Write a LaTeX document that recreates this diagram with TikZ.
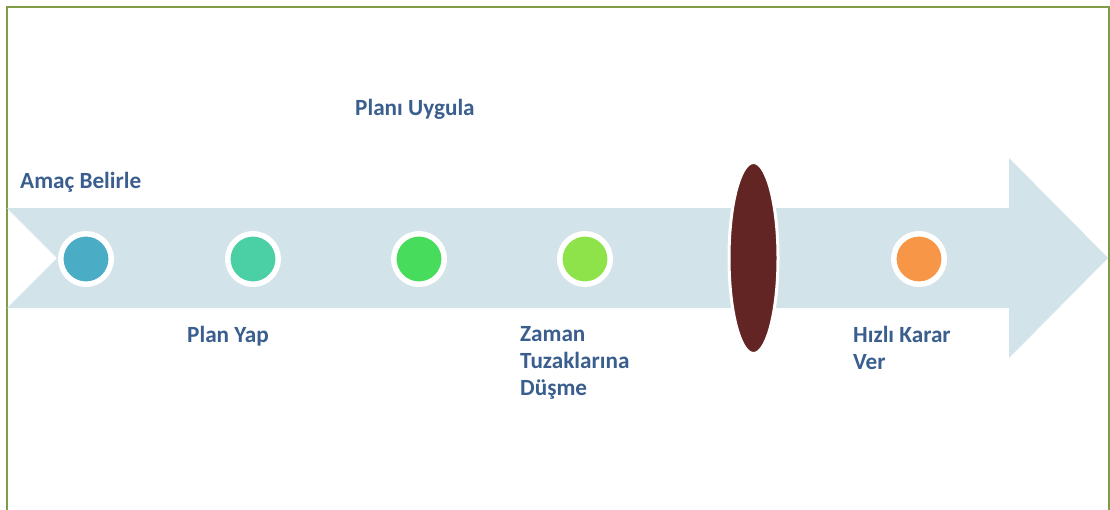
\documentclass[tikz,border=0pt]{standalone}
\usepackage{fontspec}
\setmainfont{Carlito}
\usetikzlibrary{shapes.geometric}
\definecolor{txtblue}{HTML}{3A5E8E}
\definecolor{arrowfill}{HTML}{D2E3EA}
\definecolor{frame}{HTML}{7F9D47}
\definecolor{cA}{HTML}{4BACC6}
\definecolor{cB}{HTML}{4BD0A6}
\definecolor{cC}{HTML}{48DC5C}
\definecolor{cD}{HTML}{8EE34A}
\definecolor{cE}{HTML}{F79646}
\definecolor{cRed}{HTML}{632523}
\tikzset{
  dot/.style={circle, draw=white, line width=5.5pt, minimum size=50.5pt, inner sep=0pt},
  lbl/.style={text=txtblue, font=\fontsize{23.2}{27}\selectfont\bfseries, inner sep=0pt, align=left, anchor=base west},
}
\begin{document}
\begin{tikzpicture}[x=1pt,y=-1pt]
\useasboundingbox (0,0) rectangle (1110,509);
\fill[white] (0,0) rectangle (1110,509);
\draw[frame, line width=2pt] (7,510) -- (7,7) -- (1109,7) -- (1109,510);
\fill[arrowfill] (7,208) -- (1009,208) -- (1009,158) -- (1108,258) -- (1009,358) -- (1009,308) -- (7,308) -- (57,258) -- cycle;
\node[dot, fill=cA] (d1) at (86,259) {};
\node[dot, fill=cB] (d2) at (253,259) {};
\node[dot, fill=cC] (d3) at (419,259) {};
\node[dot, fill=cD] (d4) at (585,259) {};
\node[ellipse, draw=white, line width=3pt, fill=cRed, minimum width=49pt, minimum height=191pt, inner sep=0pt] (ov) at (753.5,258) {};
\node[dot, fill=cE] (d5) at (919,259) {};
\node[lbl] (t1) at (20,188) {Amaç Belirle};
\node[lbl] (t2) at (355,115) {Planı Uygula};
\node[lbl] (t3) at (187,342) {Plan Yap};
\node[lbl] (t4) at (520,395) {Zaman\\Tuzaklarına\\Düşme};
\node[lbl] (t5) at (853,369) {Hızlı Karar\\Ver};
\end{tikzpicture}
\end{document}
